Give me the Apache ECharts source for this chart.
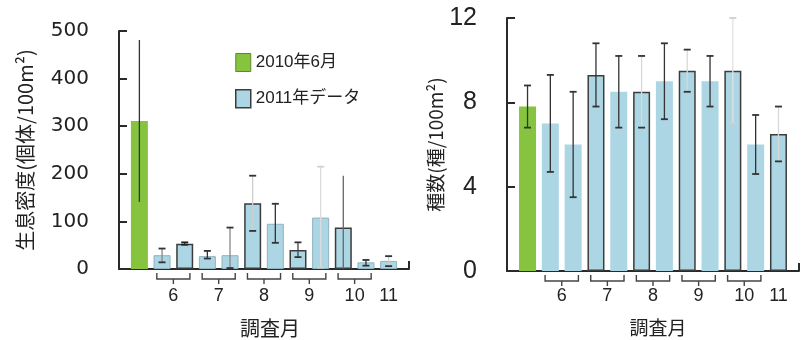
<!DOCTYPE html>
<html>
<head>
<meta charset="utf-8">
<script src="https://cdn.jsdelivr.net/npm/echarts@6/dist/echarts.min.js"></script>
<style>
html,body{margin:0;padding:0;background:#fff;}
#c{width:809px;height:340px;}
</style>
</head>
<body>
<div id="c"></div>
<script>
// ---------------- DATA ----------------
const legendNames = ['2010年6月', '2011年データ'];
const monthLabels = ['6', '7', '8', '9', '10', '11'];
// bar positions (1 = 2010, 2..12 = 2011 surveys) belonging to each survey month
const monthGroups = [[2, 3], [4, 5], [6, 7], [8, 9], [10, 11], [12]];

// left: 生息密度 (個体/100m²)
const densityTicks = [0, 100, 200, 300, 400, 500];
const density2010 = [311];
const density2010Low = [141];
const density2010High = [481];
const density2011 = [29, 53, 27, 29, 138, 95, 40, 108, 87, 14, 17];
const density2011Low = [14, 51, 22, 2, 80, 55, 25, 3, 1, 7, 6];
const density2011High = [43, 56, 38, 87, 196, 137, 56, 215, 196, 19, 27];

// right: 種数 (種/100m²)
const speciesTicks = [0, 4, 8, 12];
const species2010 = [7.8];
const species2010Low = [6.8];
const species2010High = [8.8];
const species2011 = [7.0, 6.0, 9.3, 8.5, 8.5, 9.0, 9.5, 9.0, 9.5, 6.0, 6.5];
const species2011Low = [4.7, 3.5, 7.8, 6.8, 6.8, 7.2, 8.5, 7.8, 7.0, 4.6, 5.2];
const species2011High = [9.3, 8.5, 10.8, 10.2, 10.2, 10.8, 10.5, 10.2, 12.0, 7.4, 7.8];

// ---------------- STYLE ----------------
const GREEN = '#86c440';
const BLUE = '#acd6e4';
const DARK = '#2a2a2a';
const X_MIN = 0.1, X_MAX = 12.9;
const CJK = "'Noto Sans CJK JP'";

const leftStem = ['#333', '#888', '#333', '#333', '#888', '#cfcfcf', '#333', '#444', '#dcdcdc', '#666', '#333', '#cfcfcf'];
const leftCap = [null, '#333', '#222', '#333', '#333', '#333', '#333', '#333', '#d0d0d0', null, '#333', '#333'];
const leftDarkBorder = [3, 6, 8, 10];
const rightStem = ['#333', '#333', '#333', '#333', '#333', '#d8d8d8', '#333', '#d8d8d8', '#333', '#e2e2e2', '#333', '#d8d8d8'];
const rightCap = ['#333', '#333', '#333', '#333', '#333', '#333', '#333', '#333', '#333', '#d0d0d0', '#333', '#333'];
const rightDarkBorder = [4, 6, 8, 10, 12];

// ---------------- BUILD ----------------
const groupCenters = monthGroups.map(g => g.reduce((a, b) => a + b, 0) / g.length);
const bracketData = monthGroups.filter(g => g.length > 1).map(g => [g[0], g[g.length - 1]]);

function monthFormatter(v) {
  const i = groupCenters.findIndex(c => Math.abs(c - v) < 1e-6);
  return i >= 0 ? monthLabels[i] : '';
}

function blueBars(values, darkSet, lightBorder) {
  return values.map((v, i) => {
    const x = i + 2;
    const dark = darkSet.indexOf(x) >= 0;
    return {
      value: [x, v],
      itemStyle: {
        color: BLUE,
        borderColor: dark ? '#3c3c3c' : lightBorder,
        borderWidth: dark ? 1.5 : (lightBorder ? 1 : 0)
      }
    };
  });
}

function errData(v0Low, v0High, lows, highs) {
  const d = [[1, v0Low[0], v0High[0]]];
  lows.forEach((l, i) => d.push([i + 2, l, highs[i]]));
  return d;
}

function errSeries(gridIdx, data, stems, caps) {
  return {
    type: 'custom',
    xAxisIndex: gridIdx, yAxisIndex: gridIdx,
    clip: false, z: 5, silent: true,
    encode: { x: 0, y: [1, 2] },
    data: data,
    renderItem: function (params, api) {
      const x = api.value(0);
      const lo = api.coord([x, api.value(1)]);
      const hi = api.coord([x, api.value(2)]);
      const i = params.dataIndex;
      const children = [{
        type: 'line',
        shape: { x1: lo[0], y1: lo[1], x2: hi[0], y2: hi[1] },
        style: { stroke: stems[i], lineWidth: 1.3 }
      }];
      if (caps[i]) {
        [lo, hi].forEach(p => children.push({
          type: 'line',
          shape: { x1: p[0] - 3.5, y1: p[1], x2: p[0] + 3.5, y2: p[1] },
          style: { stroke: caps[i], lineWidth: 1.8 }
        }));
      }
      return { type: 'group', children: children };
    }
  };
}

function bracketSeries(gridIdx) {
  return {
    type: 'custom',
    xAxisIndex: gridIdx, yAxisIndex: gridIdx,
    clip: false, z: 5, silent: true,
    encode: { x: [0, 1] },
    data: bracketData,
    renderItem: function (params, api) {
      const lo = api.value(0), hi = api.value(1);
      const a = api.coord([lo - 0.23, 0]);
      const b = api.coord([hi + 0.23, 0]);
      const m = api.coord([(lo + hi) / 2, 0]);
      const y0 = a[1];
      return {
        type: 'group',
        children: [{
          type: 'polyline',
          shape: { points: [[a[0], y0 + 4], [a[0], y0 + 10], [b[0], y0 + 10], [b[0], y0 + 4]] },
          style: { stroke: '#444', lineWidth: 1.4, fill: null }
        }, {
          type: 'line',
          shape: { x1: m[0], y1: y0 + 10, x2: m[0], y2: y0 + 15 },
          style: { stroke: '#444', lineWidth: 1.4 }
        }]
      };
    }
  };
}

function xAxisCfg(gridIdx, labelFont, labelSize, labelMargin, namePad, nameGap, nameSize) {
  return {
    type: 'value', gridIndex: gridIdx, min: X_MIN, max: X_MAX,
    splitLine: { show: false },
    axisLine: { show: true, lineStyle: { color: DARK, width: 2 } },
    axisTick: { show: true, inside: true, length: 8, customValues: [X_MAX], lineStyle: { color: DARK, width: 2 } },
    axisLabel: {
      show: true, customValues: groupCenters, formatter: monthFormatter,
      fontFamily: labelFont, fontSize: labelSize, color: '#222', margin: labelMargin
    },
    name: '調査月', nameLocation: 'middle', nameGap: nameGap,
    nameTextStyle: { fontFamily: CJK, fontSize: nameSize, color: '#222', padding: [0, 0, 0, namePad] }
  };
}

function yAxisCfg(gridIdx, ticks, name, labelFont, labelSize, nameGap, nameSize) {
  return {
    type: 'value', gridIndex: gridIdx,
    min: ticks[0], max: ticks[ticks.length - 1], interval: ticks[1] - ticks[0],
    splitLine: { show: false },
    axisLine: { show: true, lineStyle: { color: DARK, width: 2 } },
    axisTick: { show: true, inside: true, length: 8, lineStyle: { color: DARK, width: 2 } },
    axisLabel: { fontFamily: labelFont, fontSize: labelSize, color: '#222', margin: 30 },
    name: name, nameLocation: 'middle', nameGap: nameGap,
    nameTextStyle: { fontFamily: CJK, fontSize: nameSize, color: '#222' }
  };
}

const option = {
  animation: false,
  backgroundColor: '#fff',
  grid: [
    { left: 119, right: 400, top: 31, bottom: 71, outerBoundsMode: 'none' },
    { left: 507, right: 10, top: 18, bottom: 69, outerBoundsMode: 'none' }
  ],
  legend: {
    orient: 'vertical', left: 230, top: 48,
    itemWidth: 15, itemHeight: 18, itemGap: 17,
    textStyle: { fontFamily: "'Liberation Sans', " + CJK, fontSize: 17, color: '#222' },
    data: [
      { name: legendNames[0], icon: 'rect', itemStyle: { color: GREEN, borderColor: '#5a8a2a', borderWidth: 1 } },
      { name: legendNames[1], icon: 'rect', itemStyle: { color: BLUE, borderColor: '#3c3c3c', borderWidth: 1.5 } }
    ]
  },
  xAxis: [
    xAxisCfg(0, "'Liberation Sans'", 18, 18, 12, 49, 20),
    xAxisCfg(1, "'Liberation Sans Narrow', 'Liberation Sans'", 18, 16, 10, 47, 19)
  ],
  yAxis: [
    yAxisCfg(0, densityTicks, '生息密度(個体/100m²)', "'DejaVu Sans'", 20, 84, 20),
    yAxisCfg(1, speciesTicks, '種数(種/100m²)', "'Liberation Sans Narrow', 'Liberation Sans'", 25, 53, 19)
  ],
  series: [
    { name: legendNames[0], type: 'bar', xAxisIndex: 0, yAxisIndex: 0, barWidth: 17, barGap: '-100%',
      itemStyle: { color: GREEN }, data: density2010.map(v => [1, v]) },
    { name: legendNames[1], type: 'bar', xAxisIndex: 0, yAxisIndex: 0, barWidth: 17, barGap: '-100%',
      itemStyle: { color: BLUE }, data: blueBars(density2011, leftDarkBorder, '#8fb3bf') },
    { name: legendNames[0], type: 'bar', xAxisIndex: 1, yAxisIndex: 1, barWidth: 17, barGap: '-100%',
      itemStyle: { color: GREEN }, data: species2010.map(v => [1, v]) },
    { name: legendNames[1], type: 'bar', xAxisIndex: 1, yAxisIndex: 1, barWidth: 17, barGap: '-100%',
      itemStyle: { color: BLUE }, data: blueBars(species2011, rightDarkBorder, null) },
    errSeries(0, errData(density2010Low, density2010High, density2011Low, density2011High), leftStem, leftCap),
    errSeries(1, errData(species2010Low, species2010High, species2011Low, species2011High), rightStem, rightCap),
    bracketSeries(0),
    bracketSeries(1)
  ]
};

const chart = echarts.init(document.getElementById('c'), null, { renderer: 'canvas' });
chart.setOption(option);
</script>
</body>
</html>
